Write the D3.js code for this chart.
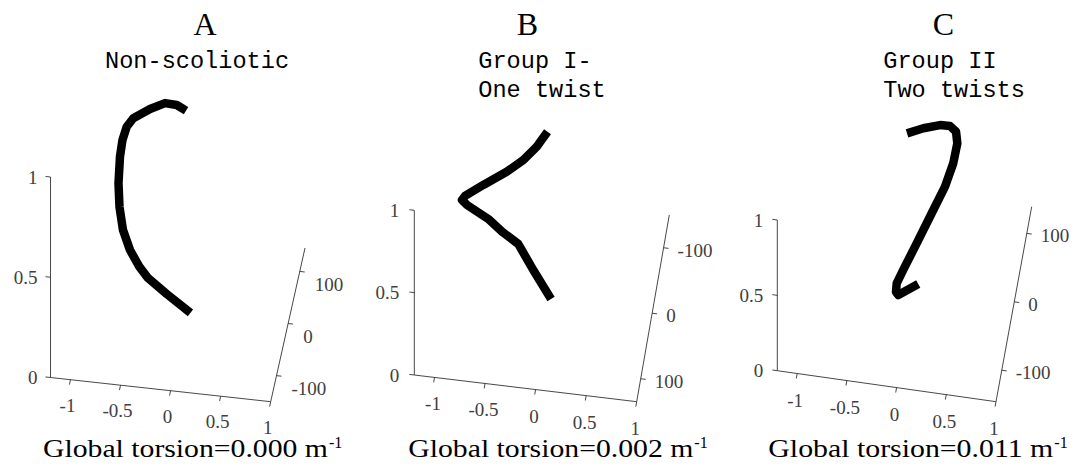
<!DOCTYPE html>
<html><head><meta charset="utf-8">
<script src="https://cdn.jsdelivr.net/npm/d3@7"></script>
<style>html,body{margin:0;padding:0;background:#fff;} svg{display:block;}</style>
</head><body>
<svg id="chart" width="1084" height="468"></svg>
<script>
// ---------------- data ----------------
const panelLetters = ["A", "B", "C"];
const panelSubtitles = [["Non-scoliotic"], ["Group I-", "One twist"], ["Group II", "Two twists"]];
const torsionValues = ["0.000", "0.002", "0.011"];
const torsionPrefix = "Global torsion=";
const torsionUnit = " m";
const torsionExponent = "-1";

const xTicks = [-1, -0.5, 0, 0.5, 1];
const yTicks = [-100, 0, 100];
const zTicks = [0, 0.5, 1];
const xLimits = [-1.2, 1];
const zLimits = [0, 1];
const yLimitsA = [-150, 145];   // front corner -> back end of depth axis
const yLimitsB = [135, -150];   // depth axis reversed
const yLimitsC = [-146, 139];

// spine curves (lateral x, depth y, height z)
const curveA_x = [-0.02, -0.113, -0.23, -0.38, -0.547, -0.613, -0.655, -0.68, -0.695, -0.685, -0.65, -0.58, -0.487, -0.40, -0.213, 0.024];
const curveA_y = [0, 0, 0, 0, 0, 0, 0, 0, 0, 0, 0, 0, 0, 0, 0, 0];
const curveA_z = [1.006, 1.029, 1.032, 0.994, 0.939, 0.893, 0.825, 0.74, 0.607, 0.49, 0.376, 0.28, 0.202, 0.15, 0.081, 0.0];

const curveB_x = [-0.035, -0.142, -0.274, -0.439, -0.67, -0.851, -0.881, -0.831, -0.621, -0.485, -0.324, -0.176, 0.0];
const curveB_y = [0, 0, 0, 0, 0, 0, 0, 0, 0, 0, 0, 0, 0];
const curveB_z = [1.026, 0.927, 0.837, 0.753, 0.656, 0.576, 0.549, 0.522, 0.453, 0.386, 0.323, 0.176, 0.013];

const curveC_x = [-0.079, 0.085, 0.253, 0.353, 0.414, 0.427, 0.386, 0.303, 0.169, 0.018, -0.117, -0.183, -0.19, -0.167, 0.034];
const curveC_y = [0, 0, 0, 0, 0, 0, 0, 0, 0, 0, 0, 0, 0, 0, 0];
const curveC_z = [1.017, 1.066, 1.103, 1.106, 1.074, 0.998, 0.862, 0.699, 0.51, 0.296, 0.107, 0.012, -0.046, -0.064, 0.028];

// ---------------- layout (screen geometry of each 3-D box) ----------------
const panels = [
  { yLim: yLimitsA, xs: curveA_x, ys: curveA_y, zs: curveA_z,
    origin: [50.5, 377.5], corner: [270.7, 401.7], back: [305, 248], zTopY: 177,
    letterX: 205, subX: 105, botX: 43,
    zLab: [-13, 6.5], xLab: [-3, 32], yLab: [15, 19.5] },
  { yLim: yLimitsB, xs: curveB_x, ys: curveB_y, zs: curveB_z,
    origin: [414.3, 375], corner: [636.7, 401.7], back: [669.3, 215], zTopY: 210.3,
    letterX: 527.5, subX: 478.3, botX: 408.3,
    zLab: [-15, 6.5], xLab: [-1.5, 33], yLab: [14, 9] },
  { yLim: yLimitsC, xs: curveC_x, ys: curveC_y, zs: curveC_z,
    origin: [777.3, 370.7], corner: [996, 401.7], back: [1031.7, 206.7], zTopY: 220,
    letterX: 943.5, subX: 883.3, botX: 768.3,
    zLab: [-14, 6.5], xLab: [-2, 33], yLab: [14, 9] }
];

const svg = d3.select("#chart");
const axisColor = "#333333";
const labelColor = "#404040";
const serif = "'Liberation Serif', 'Times New Roman', serif";
const mono = "'Liberation Mono', 'Courier New', monospace";
const tickLen = 5;
const tickFont = 19;

panels.forEach((P, i) => {
  const g = svg.append("g");
  const fx = d3.scaleLinear().domain(xLimits).range([0, 1]);
  const fy = d3.scaleLinear().domain(P.yLim).range([0, 1]);
  const fz = d3.scaleLinear().domain(zLimits).range([0, 1]);
  const EX = [P.corner[0] - P.origin[0], P.corner[1] - P.origin[1]];
  const EY = [P.back[0] - P.corner[0], P.back[1] - P.corner[1]];
  const EZ = [0, P.zTopY - P.origin[1]];
  const proj = (x, y, z) => {
    const a = fx(x), b = fy(y), c = fz(z);
    return [P.origin[0] + a * EX[0] + b * EY[0] + c * EZ[0],
            P.origin[1] + a * EX[1] + b * EY[1] + c * EZ[1]];
  };
  const unit = v => { const l = Math.hypot(v[0], v[1]); return [v[0] / l, v[1] / l]; };
  const ux = unit(EX), uy = unit(EY);
  const y0 = P.yLim[0], y1 = P.yLim[1];
  const [x0, x1] = xLimits;

  const seg = (a, b) => g.append("line")
    .attr("x1", a[0]).attr("y1", a[1]).attr("x2", b[0]).attr("y2", b[1])
    .attr("stroke", axisColor).attr("stroke-width", 0.9);

  // axis lines
  seg(proj(x0, y0, zLimits[0]), proj(x1, y0, zLimits[0]));       // x axis
  seg(proj(x1, y0, zLimits[0]), proj(x1, y1, zLimits[0]));       // depth axis
  seg(proj(x0, y0, zLimits[0]), proj(x0, y0, zLimits[1]));       // z axis

  // x ticks (outward = -y direction)
  xTicks.forEach(t => {
    const p = proj(t, y0, 0);
    seg(p, [p[0] - uy[0] * tickLen, p[1] - uy[1] * tickLen]);
    g.append("text").attr("x", p[0] + P.xLab[0]).attr("y", p[1] + P.xLab[1])
      .attr("text-anchor", "middle").attr("font-family", serif).attr("font-size", tickFont)
      .attr("fill", labelColor).text(String(t));
  });
  // depth ticks (outward = +x direction)
  yTicks.forEach(t => {
    const p = proj(x1, t, 0);
    seg(p, [p[0] + ux[0] * tickLen, p[1] + ux[1] * tickLen]);
    g.append("text").attr("x", p[0] + P.yLab[0]).attr("y", p[1] + P.yLab[1])
      .attr("text-anchor", "start").attr("font-family", serif).attr("font-size", tickFont)
      .attr("fill", labelColor).text(String(t));
  });
  // z ticks (outward = -x direction)
  zTicks.forEach(t => {
    const p = proj(x0, y0, t);
    seg(p, [p[0] - ux[0] * tickLen, p[1] - ux[1] * tickLen]);
    g.append("text").attr("x", p[0] + P.zLab[0]).attr("y", p[1] + P.zLab[1])
      .attr("text-anchor", "end").attr("font-family", serif).attr("font-size", tickFont)
      .attr("fill", labelColor).text(String(t));
  });

  // spine curve
  const idx = d3.range(P.xs.length);
  const line = d3.line()
    .x(k => proj(P.xs[k], P.ys[k], P.zs[k])[0])
    .y(k => proj(P.xs[k], P.ys[k], P.zs[k])[1])
    .curve(d3.curveLinear);
  g.append("path").attr("d", line(idx)).attr("fill", "none")
    .attr("stroke", "#000").attr("stroke-width", 8.5)
    .attr("stroke-linejoin", "round").attr("stroke-linecap", "butt");

  // panel letter
  g.append("text").attr("x", P.letterX).attr("y", 35).attr("text-anchor", "middle")
    .attr("font-family", serif).attr("font-size", 32).attr("fill", "#000")
    .text(panelLetters[i]);
  // subtitle lines
  panelSubtitles[i].forEach((s, j) => {
    g.append("text").attr("x", P.subX).attr("y", 67.5 + j * 29.5)
      .attr("font-family", mono).attr("font-size", 23.6).attr("fill", "#000")
      .attr("xml:space", "preserve").text(s);
  });
  // bottom label
  g.append("text").attr("x", P.botX).attr("y", 457)
    .attr("font-family", serif).attr("font-size", 25).attr("fill", "#000")
    .attr("textLength", 285).attr("lengthAdjust", "spacingAndGlyphs")
    .text(torsionPrefix + torsionValues[i] + torsionUnit);
  g.append("text").attr("x", P.botX + 286).attr("y", 448)
    .attr("font-family", serif).attr("font-size", 16).attr("fill", "#000")
    .text(torsionExponent);
});
</script>
</body></html>
